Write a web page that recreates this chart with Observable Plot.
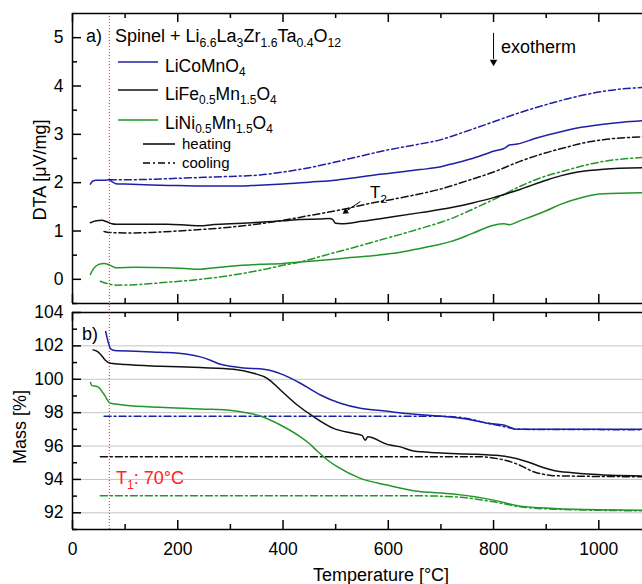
<!DOCTYPE html>
<html><head><meta charset="utf-8">
<script src="https://cdn.jsdelivr.net/npm/d3@7"></script>
<script src="https://cdn.jsdelivr.net/npm/@observablehq/plot@0.6"></script>
<style>
body{margin:0;background:#fff}
#chart{position:relative;width:642px;height:584px;overflow:hidden;font-family:"Liberation Sans",Arial,sans-serif}
#chart > svg{position:absolute;left:0}
</style></head><body><div id="chart"></div>
<script>
// ---------- data: [temperature °C, value] ----------
const dtaCoHeat = [[34,1.97],[38,2.03],[45,2.05],[60,2.05],[70,2.06],[75,2.02],[82,1.98],[100,1.97],[150,1.95],[200,1.94],[250,1.93],[300,1.93],[340,1.94],[400,1.97],[450,2.01],[500,2.05],[528,2.09],[580,2.17],[623,2.22],[660,2.27],[700,2.33],[718,2.38],[760,2.50],[800,2.65],[822,2.72],[830,2.78],[845,2.80],[880,2.92],[930,3.06],[970,3.15],[1009,3.21],[1045,3.25],[1083,3.28]];
const dtaCoCool = [[70,2.06],[100,2.06],[150,2.07],[200,2.09],[250,2.11],[300,2.13],[357,2.16],[400,2.22],[450,2.31],[528,2.50],[600,2.68],[650,2.78],[700,2.89],[750,3.07],[800,3.26],[850,3.45],[889,3.58],[950,3.76],[1009,3.89],[1045,3.94],[1083,3.97]];
const dtaFeHeat = [[34,1.17],[45,1.21],[56,1.22],[65,1.19],[75,1.15],[82,1.14],[120,1.14],[180,1.14],[220,1.12],[243,1.11],[265,1.13],[300,1.15],[357,1.18],[400,1.21],[433,1.24],[470,1.25],[488,1.26],[494,1.24],[500,1.16],[510,1.15],[550,1.20],[600,1.28],[661,1.38],[718,1.48],[760,1.58],[800,1.69],[850,1.86],[900,2.05],[927,2.14],[960,2.22],[1009,2.28],[1083,2.31]];
const dtaFeCool = [[60,0.99],[70,0.97],[100,0.96],[150,0.97],[200,1.00],[243,1.03],[300,1.08],[357,1.15],[400,1.22],[450,1.32],[515,1.45],[560,1.56],[610,1.66],[661,1.77],[700,1.87],[750,2.04],[800,2.22],[850,2.44],[900,2.62],[927,2.70],[970,2.82],[1009,2.89],[1083,2.95]];
const dtaNiHeat = [[34,0.10],[40,0.22],[50,0.31],[60,0.33],[70,0.30],[82,0.24],[120,0.25],[180,0.24],[220,0.22],[243,0.21],[270,0.24],[300,0.27],[357,0.31],[400,0.33],[433,0.36],[480,0.40],[528,0.45],[580,0.50],[623,0.56],[660,0.64],[700,0.73],[718,0.78],[760,0.95],[800,1.12],[820,1.15],[830,1.13],[850,1.21],[900,1.42],[927,1.55],[970,1.70],[1009,1.77],[1083,1.79]];
const dtaNiCool = [[53,-0.04],[70,-0.10],[85,-0.12],[120,-0.11],[180,-0.06],[243,0.00],[300,0.08],[357,0.19],[400,0.29],[433,0.36],[480,0.50],[528,0.64],[580,0.80],[623,0.93],[670,1.08],[700,1.18],[718,1.25],[760,1.45],[800,1.65],[850,1.92],[900,2.14],[927,2.22],[970,2.35],[1009,2.44],[1045,2.49],[1083,2.52]];

const massCoHeat = [[63,102.86],[66,102.45],[70,102.0],[73,101.80],[80,101.72],[120,101.68],[167,101.62],[218,101.50],[243,101.34],[262,101.14],[281,100.90],[300,100.78],[325,100.68],[363,100.60],[380,100.50],[401,100.26],[433,99.76],[471,99.06],[509,98.56],[547,98.26],[598,98.08],[623,97.98],[661,97.88],[718,97.74],[760,97.55],[788,97.36],[819,97.26],[832,97.12],[845,97.00],[900,97.00],[1000,97.00],[1083,97.00]];
const massCoCool = [[60,97.78],[400,97.78],[700,97.78],[740,97.70],[788,97.38],[826,97.12],[845,97.00],[1083,96.98]];
const massFeHeat = [[39,101.76],[45,101.70],[50,101.60],[57,101.35],[63,101.12],[72,100.96],[100,100.88],[167,100.78],[243,100.70],[306,100.60],[344,100.36],[370,100.06],[395,99.36],[427,98.46],[458,97.76],[496,97.06],[530,96.78],[550,96.64],[556,96.35],[561,96.55],[598,96.10],[623,95.95],[648,95.70],[693,95.60],[750,95.52],[800,95.45],[826,95.36],[864,95.06],[890,94.76],[914,94.54],[950,94.40],[978,94.32],[1083,94.20]];
const massFeCool = [[53,95.36],[400,95.36],[775,95.36],[800,95.28],[826,95.12],[850,94.85],[876,94.46],[900,94.28],[914,94.22],[1083,94.16]];
const massNiHeat = [[34,99.80],[37,99.62],[47,99.56],[52,99.45],[56,99.26],[62,99.00],[66,98.76],[72,98.56],[100,98.45],[167,98.32],[243,98.22],[306,98.12],[330,98.00],[357,97.80],[395,97.26],[433,96.55],[450,96.15],[465,95.70],[485,95.15],[503,94.76],[547,94.06],[598,93.66],[648,93.32],[724,93.12],[800,92.76],[851,92.40],[914,92.26],[1000,92.18],[1083,92.16]];
const massNiCool = [[53,93.02],[650,93.02],[724,92.96],[800,92.66],[851,92.36],[914,92.22],[1083,92.12]];

// ticks
const xMajor = [0,200,400,600,800,1000];
const xMinor = [100,300,500,700,900];
const dtaMajor = [0,1,2,3,4,5];
const dtaMinor = [-0.5,0.5,1.5,2.5,3.5,4.5];
const massMajor = [92,94,96,98,100,102,104];
const massMinor = [91,93,95,97,99,101,103];
const massGrid = [92,94,96,98,100,102];
const xDomain = [0,1083];
const dtaDomain = [-0.5,5.5];
const massDomain = [91,104];
const t1 = [70];
// annotations (data coordinates)
const exoShaft = [{t:800, a:5.10, b:4.56}];
const exoHead = [{t:800, v:4.50}];
const t2Shaft = [{t1:547, v1:1.61, t2:521, v2:1.42}];
const t2Head = [{t:519, v:1.40}];

// ---------- styling ----------
const blue="#1f1fa6", black="#111", green="#22962a", red="#ff2020";
const dashDot="7,3,2,3";
const FONT='"Liberation Sans", Arial, sans-serif';
const W=642, ML=72, plotW=W-ML;
const topH=307, topMT=13, topMB=4, topPH=topH-topMT-topMB;
const botTop=290, botH=584-botTop, botMT=22, botMB=55, botPH=botH-botMT-botMB;
const rows = p => p.map(([t,v]) => ({t,v}));

function frameMarks(ph, yDom, yMaj, yMin){
  const s = {stroke:"#000", strokeWidth:1.5};
  return [
    Plot.ruleX([xDomain[0]], s),
    Plot.ruleY([yDom[1]], s),
    Plot.ruleY([yDom[0]], s),
    Plot.tickX(xMajor, {x:d=>d, insetTop:ph-9, ...s}),
    Plot.tickX(xMinor, {x:d=>d, insetTop:ph-5, ...s}),
    Plot.tickX(xMajor, {x:d=>d, insetBottom:ph-9, ...s}),
    Plot.tickX(xMinor, {x:d=>d, insetBottom:ph-5, ...s}),
    Plot.tickY(yMaj, {y:d=>d, insetRight:plotW-9, ...s}),
    Plot.tickY(yMin, {y:d=>d, insetRight:plotW-5, ...s})
  ];
}
function curve(data, color, dashed){
  return Plot.line(rows(data), {x:"t", y:"v", stroke:color, strokeWidth:1.5, curve:"monotone-x",
    strokeDasharray: dashed ? dashDot : null, clip:true});
}

const topPlot = Plot.plot({
  width:W, height:topH, marginLeft:ML, marginRight:0, marginTop:topMT, marginBottom:topMB,
  style:{fontFamily:FONT, fontSize:"17.5px", color:"#000", background:"transparent"},
  x:{domain:xDomain, axis:null},
  y:{domain:dtaDomain},
  marks:[
    Plot.ruleX(t1, {x:d=>d, stroke:red, strokeWidth:1, strokeDasharray:"1,2", insetBottom:-topMB}),
    curve(dtaCoCool, blue, true), curve(dtaFeCool, black, true), curve(dtaNiCool, green, true),
    curve(dtaCoHeat, blue, false), curve(dtaFeHeat, black, false), curve(dtaNiHeat, green, false),
    Plot.link(exoShaft, {x1:"t", x2:"t", y1:"a", y2:"b", stroke:"#000", strokeWidth:1}),
    Plot.dot(exoHead, {x:"t", y:"v", symbol:"triangle", rotate:180, r:2.8, fill:"#000", stroke:null}),
    Plot.link(t2Shaft, {x1:"t1", y1:"v1", x2:"t2", y2:"v2", stroke:"#000", strokeWidth:1}),
    Plot.dot(t2Head, {x:"t", y:"v", symbol:"triangle", rotate:235, r:2.4, fill:"#000", stroke:null}),
    Plot.axisY(dtaMajor, {tickSize:0, tickPadding:9, fontSize:17.5, label:null}),
    ...frameMarks(topPH, dtaDomain, dtaMajor, dtaMinor)
  ]
});

const botPlot = Plot.plot({
  width:W, height:botH, marginLeft:ML, marginRight:0, marginTop:botMT, marginBottom:botMB,
  style:{fontFamily:FONT, fontSize:"17.5px", color:"#000", background:"transparent"},
  x:{domain:xDomain},
  y:{domain:massDomain},
  marks:[
    Plot.ruleY(massGrid, {y:d=>d, stroke:"#c4c4c4", strokeWidth:1}),
    Plot.ruleX(t1, {x:d=>d, stroke:red, strokeWidth:1, strokeDasharray:"1,2", insetTop:-9}),
    curve(massCoCool, blue, true), curve(massFeCool, black, true), curve(massNiCool, green, true),
    curve(massCoHeat, blue, false), curve(massFeHeat, black, false), curve(massNiHeat, green, false),
    Plot.axisY(massMajor, {tickSize:0, tickPadding:9, fontSize:17.5, label:null}),
    Plot.axisX(xMajor, {tickSize:0, tickPadding:13, fontSize:17.5, label:null, tickFormat:d=>String(d)}),
    ...frameMarks(botPH, massDomain, massMajor, massMinor)
  ]
});

const chart = document.getElementById("chart");
topPlot.style.top = "0px";
botPlot.style.top = botTop + "px";
chart.appendChild(topPlot);
chart.appendChild(botPlot);

// ---------- overlay: labels, legend, annotations ----------
const ov = d3.select(chart).append("svg")
  .attr("width", W).attr("height", 584).style("top","0px")
  .style("font-family", FONT).style("pointer-events","none");

function rich(x, y, parts, size, fill, subShift){
  const t = ov.append("text").attr("x", x).attr("y", y).attr("font-size", size).attr("fill", fill || "#000");
  let shifted = 0;
  const sub = subShift != null ? subShift : Math.round(size*0.27);
  parts.forEach(p => {
    const isSub = Array.isArray(p);
    const txt = isSub ? p[0] : p;
    const target = isSub ? sub : 0;
    t.append("tspan").attr("dy", target - shifted).attr("font-size", isSub ? size*0.68 : size).text(txt);
    shifted = target;
  });
  return t;
}

rich(86, 42, ["a)"], 18);
rich(115, 42, ["Spinel + Li",["6.6"],"La",["3"],"Zr",["1.6"],"Ta",["0.4"],"O",["12"]], 18);

const legend = [
  {color:blue, y:62, base:72, parts:["LiCoMnO",["4"]]},
  {color:black, y:90, base:100, parts:["LiFe",["0.5"],"Mn",["1.5"],"O",["4"]]},
  {color:green, y:120, base:129, parts:["LiNi",["0.5"],"Mn",["1.5"],"O",["4"]]}
];
legend.forEach(l => {
  ov.append("line").attr("x1",118).attr("x2",158).attr("y1",l.y).attr("y2",l.y)
    .attr("stroke", l.color).attr("stroke-width",1.5);
  rich(165, l.base, l.parts, 17.5, "#000", 4);
});
[{y:144, base:149, label:"heating", dash:null},{y:163, base:168, label:"cooling", dash:dashDot}].forEach(l => {
  ov.append("line").attr("x1",143).attr("x2",175).attr("y1",l.y).attr("y2",l.y)
    .attr("stroke","#000").attr("stroke-width",1.5).attr("stroke-dasharray", l.dash);
  rich(182, l.base, [l.label], 15);
});

rich(501, 53, ["exotherm"], 18);
rich(370, 198, ["T",["2"]], 17);
rich(82, 340, ["b)"], 18);
rich(116, 484, ["T",["1"],": 70°C"], 18, red);

ov.append("text").attr("transform","translate(46,170) rotate(-90)").attr("text-anchor","middle")
  .attr("font-size",18).text("DTA [μV/mg]");
ov.append("text").attr("transform","translate(26,427) rotate(-90)").attr("text-anchor","middle")
  .attr("font-size",18).text("Mass [%]");
ov.append("text").attr("x",381).attr("y",581).attr("text-anchor","middle")
  .attr("font-size",18).text("Temperature [°C]");
</script></body></html>
